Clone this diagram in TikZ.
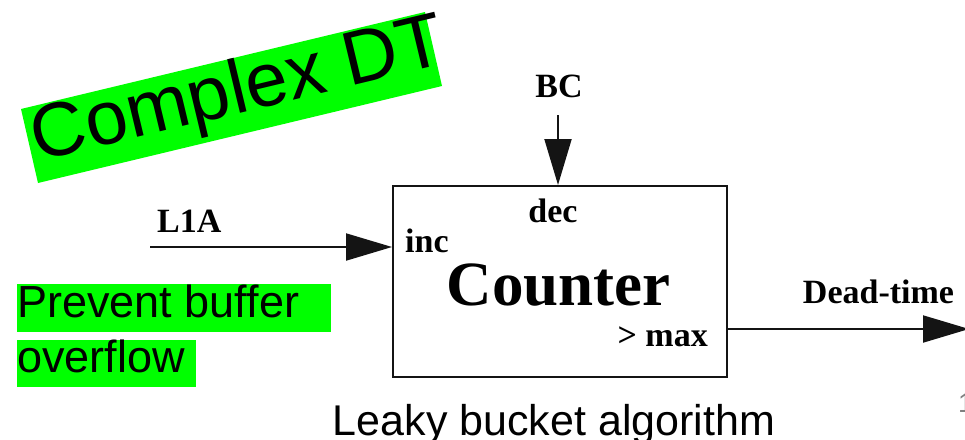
\documentclass[tikz,border=0pt]{standalone}
\usepackage{fontspec}
\setmainfont{Liberation Serif}
\newfontfamily\arial{Liberation Sans}
\usetikzlibrary{arrows.meta}
\definecolor{hilite}{RGB}{0,255,0}
\definecolor{ink}{RGB}{20,20,20}
\tikzset{
  lbl/.style={inner sep=0pt, font=\bfseries\fontsize{34}{40}\selectfont, text=black},
  sig/.style={draw=ink, line width=2pt, -{Triangle[length=46pt, width=27pt]}},
  blockbox/.style={draw=ink, line width=2pt, rectangle, inner sep=0pt,
    minimum width=334pt, minimum height=191pt},
  note/.style={inner sep=0pt, font=\arial\fontsize{45}{50}\selectfont, text=black},
}
\begin{document}
\begin{tikzpicture}[x=1pt, y=-1pt]
\useasboundingbox (0,0) rectangle (965,439);
\clip (0,0) rectangle (965,439);

% rotated highlight with title
\fill[hilite] (21,109) -- (38,183) -- (442,86) -- (425,12) -- cycle;
\node[inner sep=0pt, rotate=13.5, font=\arial\fontsize{76}{80}\selectfont] (title) at (238.7,93.2) {Complex DT};

% highlighted side note
\fill[hilite] (17,284) rectangle (331,332);
\fill[hilite] (17,340) rectangle (196,387);
\node[note, anchor=base west] (note1) at (17,317) {Prevent buffer};
\node[note, anchor=base west] (note2) at (17,372) {overflow};

% counter block
\node[blockbox] (box) at (560,281.5) {};
\node[lbl, anchor=base] (dec) at (553,222) {dec};
\node[lbl, anchor=base west] (inc) at (405,252) {inc};
\node[lbl, anchor=base] (counter) at (558.5,305) {\fontsize{63}{70}\selectfont Counter};
\node[lbl, anchor=base east] (max) at (708,346) {> max};

% inputs and output
\node[lbl, anchor=base] (bc) at (559,97) {BC};
\coordinate (bcTop) at (558,115);
\draw[sig] (bcTop) -- (bcTop |- box.north);

\node[lbl, anchor=base west] (l1a) at (157,232) {L1A};
\coordinate (l1aStart) at (150,247);
\draw[sig] (l1aStart) -- (l1aStart -| box.west);

\node[lbl, anchor=base] (dt) at (878.5,303) {Dead-time};
\coordinate (dtEnd) at (969,329);
\draw[sig] (dtEnd -| box.east) -- (dtEnd);

% caption
\node[inner sep=0pt, anchor=base, font=\arial\fontsize{43}{48}\selectfont] (caption) at (554,435) {Leaky bucket algorithm};

% page number at the edge
\node[inner sep=0pt, anchor=base west, text=gray, font=\arial\fontsize{27}{30}\selectfont] (pagenum) at (958,412) {1};
\end{tikzpicture}
\end{document}
